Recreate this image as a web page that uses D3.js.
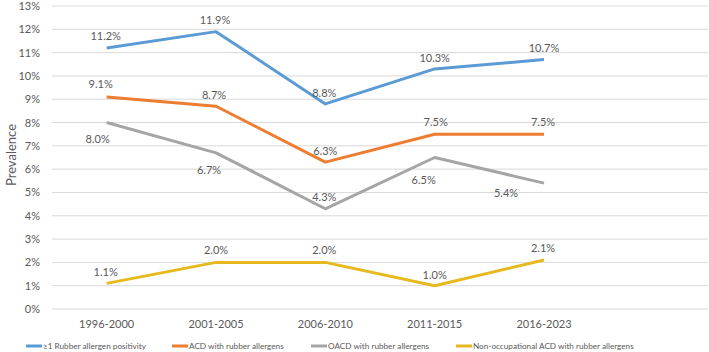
<!DOCTYPE html>
<html>
<head>
<meta charset="utf-8">
<script src="https://cdn.jsdelivr.net/npm/d3@7"></script>
<style>
  body { margin: 0; background: #fff; }
  svg text { font-family: Lato, "Open Sans", sans-serif; fill: #595959; }
</style>
</head>
<body>
<div class="line-chart"></div>
<script>
/* DATA */
const periods = ["1996-2000", "2001-2005", "2006-2010", "2011-2015", "2016-2023"];
const rubberPositivity = [11.2, 11.9, 8.8, 10.3, 10.7];
const acdRubber = [9.1, 8.7, 6.3, 7.5, 7.5];
const oacdRubber = [8.0, 6.7, 4.3, 6.5, 5.4];
const nonOccAcdRubber = [1.1, 2.0, 2.0, 1.0, 2.1];
const seriesNames = [
    "\u22651 Rubber allergen positivity",
    "ACD with rubber allergens",
    "OACD with rubber allergens",
    "Non-occupational ACD with rubber allergens"
];
const yTicks = d3.range(0, 14, 1);

/* LAYOUT */
const width = 709;
const height = 352;
const margin = { top: 6, right: 1, bottom: 43, left: 52 };
const colors = ["#5B9BD5", "#ED7D31", "#A5A5A5", "#E6B91E"];
// label offsets (dx, dy) relative to each point, per series
const labelOffsets = [
    [[-1, -12], [-1, -11], [-1, -11], [0, -11], [0, -11]],
    [[-6, -13], [-2, -11], [0, -11], [1, -12], [-1, -12]],
    [[-9, 17], [-7, 17], [-1, -12], [-11, 23], [-38, 10]],
    [[-1, -11], [0, -12], [-1, -12], [0, -11], [-1, -12]]
];
const legendX = [26, 172, 311, 456];

const series = [rubberPositivity, acdRubber, oacdRubber, nonOccAcdRubber].map((vals, i) => ({
    name: seriesNames[i],
    color: colors[i],
    values: vals.map((v, j) => ({ period: periods[j], value: v, offset: labelOffsets[i][j] }))
}));

/* SCALES */
// an empty sixth slot keeps the right-hand space Excel leaves
const xScale = d3.scaleBand()
    .domain(periods.concat([""]))
    .range([margin.left, width - margin.right])

const yScale = d3.scaleLinear()
    .domain([0, 13])
    .range([height - margin.bottom, margin.top])

const svg = d3.select(".line-chart")
    .append("svg")
    .attr("width", width)
    .attr("height", height)

// gridlines
svg.append("g")
    .selectAll("line")
    .data(yTicks)
    .join("line")
    .attr("x1", margin.left)
    .attr("x2", width - margin.right)
    .attr("y1", d => yScale(d))
    .attr("y2", d => yScale(d))
    .attr("stroke", "#D9D9D9")
    .attr("stroke-width", 1)

// y axis
const yAxis = svg.append("g")
    .attr("transform", `translate(${margin.left}, 0)`)
    .call(d3.axisLeft(yScale).tickValues(yTicks).tickFormat(d => d + "%").tickSize(0).tickPadding(12))
yAxis.select(".domain").remove()
yAxis.selectAll("text").attr("font-size", 11).attr("fill", "#595959").attr("font-family", "Lato, sans-serif")

// x axis
const xAxis = svg.append("g")
    .attr("transform", `translate(0, ${height - margin.bottom})`)
    .call(d3.axisBottom(xScale).tickValues(periods).tickSize(0).tickPadding(11))
xAxis.select(".domain").remove()
xAxis.selectAll("text").attr("font-size", 11).attr("fill", "#595959").attr("font-family", "Lato, sans-serif")

// y axis title
svg.append("text")
    .text("Prevalence")
    .attr("transform", `translate(${11}, ${155})rotate(-90)`)
    .attr("text-anchor", "middle")
    .attr("dy", "0.35em")
    .attr("font-size", 13)

const xMid = d => xScale(d) + xScale.bandwidth() / 2;
const lineFunction = d3.line()
    .x(d => xMid(d.period))
    .y(d => yScale(d.value))

svg.selectAll("path.series")
    .data(series)
    .join("path")
    .attr("class", "series")
    .attr("fill", "none")
    .attr("stroke", d => d.color)
    .attr("stroke-width", 3)
    .attr("stroke-linejoin", "round")
    .attr("d", d => lineFunction(d.values))

// data labels
svg.append("g")
    .selectAll("text")
    .data(series.flatMap(s => s.values))
    .join("text")
    .attr("x", d => xMid(d.period) + d.offset[0])
    .attr("y", d => yScale(d.value) + d.offset[1])
    .attr("dy", "0.35em")
    .attr("text-anchor", "middle")
    .attr("font-size", 11)
    .text(d => d.value.toFixed(1) + "%")

// legend
const legend = svg.append("g")
    .selectAll("g")
    .data(series)
    .join("g")
    .attr("transform", (d, i) => `translate(${legendX[i]}, ${346})`)

legend.append("line")
    .attr("x1", 0)
    .attr("x2", 16)
    .attr("stroke", d => d.color)
    .attr("stroke-width", 3)

legend.append("text")
    .attr("x", 17)
    .attr("dy", "0.35em")
    .attr("font-size", 8.2)
    .text(d => d.name)
</script>
</body>
</html>
